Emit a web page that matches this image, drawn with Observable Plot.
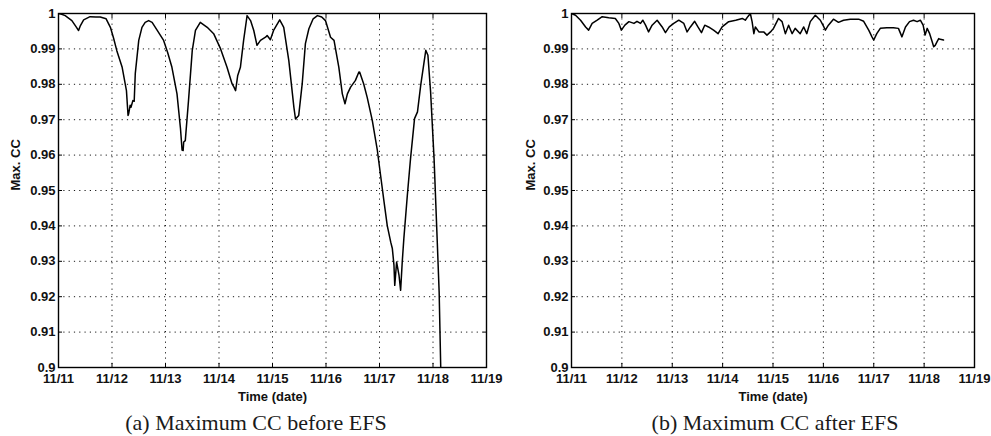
<!DOCTYPE html>
<html>
<head>
<meta charset="utf-8">
<script src="https://cdn.jsdelivr.net/npm/d3@7"></script>
<script src="https://cdn.jsdelivr.net/npm/@observablehq/plot@0.6"></script>
<style>
  html, body { margin: 0; padding: 0; background: #fff; }
  #wrap { position: relative; width: 991px; height: 436px; overflow: hidden; background: #fff; }
  .panel { position: absolute; top: 0; }
  .cap { position: absolute; text-align: center; font-family: "Liberation Serif", "Times New Roman", serif; font-size: 22px; color: #1a1a1a; line-height: 1; white-space: nowrap; }
</style>
</head>
<body>
<div id="wrap">
  <div id="pb" class="panel" style="left:496px"></div>
  <div id="pa" class="panel" style="left:0px"></div>
  <div class="cap" style="left:106px; width:300px; top:412px">(a) Maximum CC before EFS</div>
  <div class="cap" style="left:625px; width:300px; top:412px">(b) Maximum CC after EFS</div>
</div>
<script>
// x tick positions (days since 11/11) and their labels
const dayTicks = [0, 1, 2, 3, 4, 5, 6, 7, 8];
const dayLabels = ["11/11", "11/12", "11/13", "11/14", "11/15", "11/16", "11/17", "11/18", "11/19"];
// y ticks and labels
const ccTicks = [0.9, 0.91, 0.92, 0.93, 0.94, 0.95, 0.96, 0.97, 0.98, 0.99, 1];
const ccLabels = ["0.9", "0.91", "0.92", "0.93", "0.94", "0.95", "0.96", "0.97", "0.98", "0.99", "1"];
const xTitle = "Time (date)";
const yTitle = "Max. CC";

// (a) Maximum CC before EFS
const daysA = [0, 0.06, 0.125, 0.25, 0.33, 0.375, 0.41, 0.47, 0.59, 0.7, 0.78, 0.89, 0.97, 1.03, 1.09, 1.19, 1.27, 1.3, 1.31, 1.34, 1.355, 1.39, 1.415, 1.435, 1.5, 1.56, 1.62, 1.685, 1.75, 1.81, 1.965, 2.04, 2.12, 2.215, 2.28, 2.31, 2.33, 2.34, 2.37, 2.43, 2.5, 2.56, 2.65, 2.78, 2.9, 3.03, 3.15, 3.245, 3.28, 3.31, 3.35, 3.4, 3.46, 3.525, 3.59, 3.65, 3.71, 3.775, 3.87, 3.9, 3.96, 4.02, 4.135, 4.21, 4.305, 4.4, 4.43, 4.49, 4.555, 4.615, 4.68, 4.76, 4.84, 4.92, 4.99, 5.085, 5.15, 5.24, 5.305, 5.355, 5.4, 5.46, 5.55, 5.615, 5.63, 5.705, 5.77, 5.865, 5.96, 6.02, 6.085, 6.145, 6.21, 6.24, 6.27, 6.285, 6.32, 6.365, 6.395, 6.425, 6.455, 6.52, 6.58, 6.655, 6.71, 6.77, 6.865, 6.905, 6.955, 7.02, 7.08, 7.115, 7.145];
const ccA = [1.0, 0.9998, 0.9994, 0.998, 0.9962, 0.9952, 0.9966, 0.9982, 0.9991, 0.999, 0.999, 0.9985, 0.9961, 0.993, 0.9895, 0.9848, 0.9782, 0.9712, 0.9716, 0.9741, 0.9735, 0.9754, 0.9752, 0.983, 0.9924, 0.9961, 0.9975, 0.998, 0.9975, 0.9961, 0.9924, 0.989, 0.9848, 0.9773, 0.9675, 0.9614, 0.9613, 0.9637, 0.9641, 0.9754, 0.9895, 0.9952, 0.9975, 0.9961, 0.9943, 0.99, 0.9848, 0.9801, 0.9792, 0.9782, 0.9825, 0.9848, 0.9924, 0.9994, 0.998, 0.9952, 0.991, 0.9924, 0.9933, 0.9938, 0.9926, 0.9952, 0.9982, 0.9961, 0.9867, 0.9735, 0.9702, 0.9712, 0.9801, 0.9915, 0.9957, 0.9985, 0.9994, 0.999, 0.998, 0.9933, 0.9924, 0.9848, 0.9773, 0.9745, 0.9773, 0.9792, 0.9811, 0.9835, 0.9834, 0.9801, 0.9763, 0.9698, 0.9613, 0.9543, 0.9468, 0.9401, 0.9354, 0.9336, 0.929, 0.9232, 0.9298, 0.926, 0.9218, 0.9298, 0.9364, 0.9486, 0.959, 0.9703, 0.9722, 0.9797, 0.9896, 0.9882, 0.9779, 0.959, 0.9354, 0.9213, 0.8997];

// (b) Maximum CC after EFS
const daysB = [0, 0.08, 0.18, 0.28, 0.34, 0.41, 0.51, 0.61, 0.74, 0.87, 0.94, 0.99, 1.06, 1.14, 1.24, 1.3, 1.37, 1.415, 1.47, 1.53, 1.6, 1.7, 1.8, 1.865, 1.94, 2.03, 2.13, 2.23, 2.295, 2.36, 2.445, 2.51, 2.58, 2.645, 2.72, 2.82, 2.91, 2.99, 3.12, 3.26, 3.39, 3.45, 3.5, 3.55, 3.585, 3.62, 3.65, 3.72, 3.815, 3.88, 3.95, 4.01, 4.11, 4.18, 4.245, 4.31, 4.38, 4.44, 4.54, 4.61, 4.67, 4.74, 4.84, 4.94, 5.01, 5.04, 5.1, 5.2, 5.3, 5.4, 5.535, 5.7, 5.8, 5.9, 5.965, 6.0, 6.06, 6.13, 6.26, 6.39, 6.49, 6.56, 6.63, 6.71, 6.79, 6.86, 6.925, 6.98, 7.02, 7.06, 7.11, 7.16, 7.19, 7.22, 7.255, 7.29, 7.32, 7.385];
const ccB = [1.0, 0.9995, 0.9981, 0.9962, 0.9953, 0.9972, 0.9981, 0.9991, 0.9988, 0.9986, 0.9972, 0.9953, 0.9967, 0.9977, 0.9972, 0.9978, 0.9972, 0.9981, 0.9967, 0.9948, 0.9967, 0.9981, 0.9962, 0.9946, 0.9962, 0.9972, 0.9981, 0.9972, 0.9948, 0.9962, 0.9978, 0.9962, 0.9946, 0.9967, 0.9962, 0.9953, 0.9943, 0.9962, 0.9977, 0.9981, 0.9986, 0.9981, 0.9991, 1.0, 0.9977, 0.9943, 0.9962, 0.9948, 0.9948, 0.9939, 0.9948, 0.9958, 0.9986, 0.9977, 0.9943, 0.9967, 0.9943, 0.9958, 0.9943, 0.9962, 0.9943, 0.9977, 0.9995, 0.9981, 0.9962, 0.9953, 0.9967, 0.9984, 0.9975, 0.9981, 0.9984, 0.9984, 0.9978, 0.9953, 0.9934, 0.9925, 0.9943, 0.9958, 0.996, 0.996, 0.9958, 0.9934, 0.9962, 0.9977, 0.9981, 0.9977, 0.9981, 0.9967, 0.9939, 0.9958, 0.9943, 0.992, 0.9906, 0.991, 0.992, 0.9929, 0.9927, 0.9925];

const xFmt = d => dayLabels[dayTicks.indexOf(d)];
const yFmt = d => ccLabels[ccTicks.indexOf(d)];
const blank = () => "";
const gridStyle = {stroke: "#1a1a1a", strokeOpacity: 1, strokeWidth: 1, strokeDasharray: "1.2,4.1"};
const font = {fontSize: 13, fontWeight: "bold", fill: "#111"};

function panel(days, cc, width, mLeft, mRight, yLabelDx) {
  const data = days.map((d, i) => ({day: d, cc: cc[i]}));
  return Plot.plot({
    width, height: 406,
    marginTop: 13, marginBottom: 39, marginLeft: mLeft, marginRight: mRight,
    style: {fontFamily: "'Liberation Sans', Arial, sans-serif", fontSize: "13px", fontWeight: "bold", color: "#111", background: "transparent", overflow: "visible"},
    x: {domain: [0, 8]},
    y: {domain: [0.9, 1]},
    marks: [
      Plot.gridX(dayTicks.slice(1, -1), gridStyle),
      Plot.gridY(ccTicks.slice(1, -1), gridStyle),
      Plot.axisX(dayTicks, {anchor: "bottom", tickSize: 0, tickPadding: 6, tickFormat: xFmt, label: null, ...font}),
      Plot.axisX(dayTicks, {anchor: "bottom", tickSize: -4, tickFormat: blank, label: null, stroke: "black"}),
      Plot.axisX(dayTicks, {anchor: "top", tickSize: -4, tickFormat: blank, label: null, stroke: "black"}),
      Plot.axisY(ccTicks, {anchor: "left", tickSize: 0, tickPadding: 3, tickFormat: yFmt, label: null, ...font}),
      Plot.axisY(ccTicks, {anchor: "left", tickSize: -4, tickFormat: blank, label: null, stroke: "black"}),
      Plot.axisY(ccTicks, {anchor: "right", tickSize: -4, tickFormat: blank, label: null, stroke: "black"}),
      Plot.frame({stroke: "black", strokeWidth: 1.4}),
      Plot.line(data, {x: "day", y: "cc", stroke: "black", strokeWidth: 1.5, clip: true}),
      Plot.text([xTitle], {text: d => d, frameAnchor: "bottom", dy: 29, lineAnchor: "middle", ...font}),
      Plot.text([yTitle], {text: d => d, frameAnchor: "left", dx: yLabelDx, rotate: -90, ...font})
    ]
  });
}

document.getElementById("pa").append(panel(daysA, ccA, 496, 58, 10, -43));
document.getElementById("pb").append(panel(daysB, ccB, 495, 75, 17, -41));
</script>
</body>
</html>
